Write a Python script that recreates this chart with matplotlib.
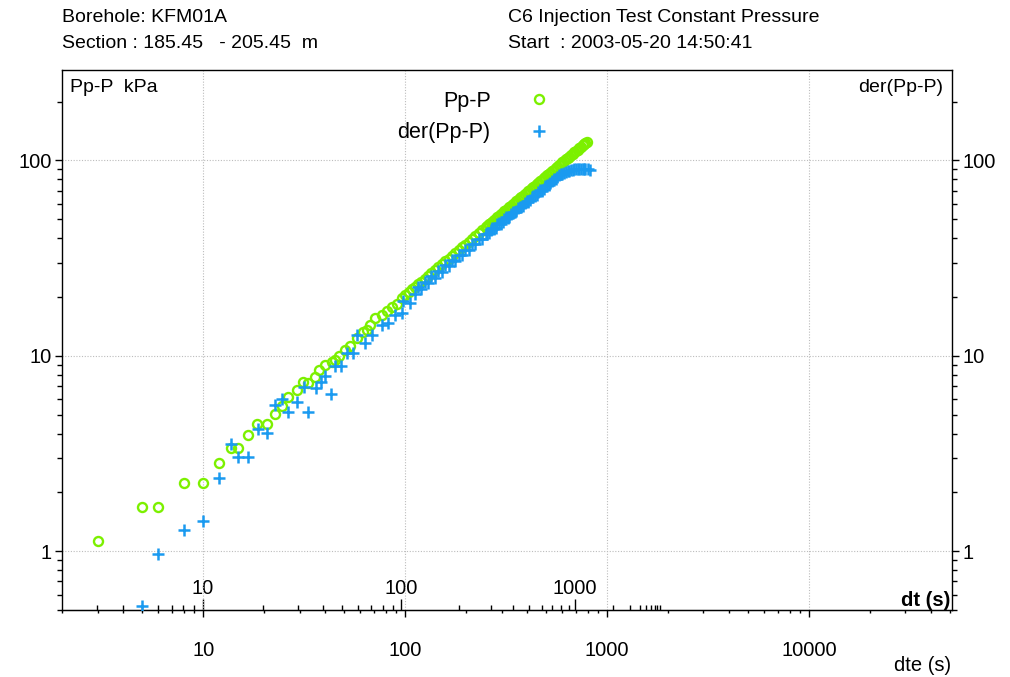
import matplotlib
matplotlib.use('Agg')
import matplotlib.pyplot as plt
from matplotlib.ticker import FuncFormatter, NullFormatter

plt.rcParams['font.family'] = ['Liberation Sans', 'DejaVu Sans']

# Pp-P (kPa) against elapsed time (s)
pp_t = [3, 5, 6, 8, 10, 12, 13.8, 14.8, 16.7, 18.5, 20.6, 22.7, 24.5, 26.4,
        29.2, 31.1, 33.2, 35.8, 37.6, 39.9, 43.3, 44.9, 47.2, 50.4, 53.6,
        57.5, 62.0, 64.5, 66.9, 70.9, 76.5, 81.0, 85.8, 90.8,
        96, 100, 104, 108, 112, 116, 120, 125, 130, 135, 140, 146, 152, 158,
        164, 170, 177, 184, 191, 198, 206, 214, 222, 231, 240, 250, 260, 270,
        281, 292, 304, 316, 328, 341, 355, 369, 384, 399, 415, 431, 448, 466,
        485, 504, 524, 545, 567, 590, 613, 637, 662, 688, 715, 743, 770, 792,
        # late samples in between
        255, 265, 275, 286, 298, 310, 322, 334, 348, 362, 376, 391, 407, 423,
        439, 457, 475, 494, 514, 534, 556, 578, 601, 625, 649, 675, 701, 729,
        756, 781]
pp_v = [1.125, 1.68, 1.68, 2.24, 2.24, 2.82, 3.36, 3.36, 3.91, 4.48, 4.48,
        5.03, 5.55, 6.14, 6.69, 7.30, 7.27, 7.83, 8.41, 8.99, 9.32, 9.54,
        10.0, 10.65, 11.25, 12.33, 13.23, 13.59, 14.42, 15.61, 16.23, 16.87,
        17.78, 18.48,
        19.72, 20.43, 21.14, 21.85, 22.56, 23.26, 23.96, 24.82, 25.68, 26.54,
        27.40, 28.43, 29.44, 30.45, 31.45, 32.45, 33.62, 34.77, 35.93, 37.08,
        38.38, 39.67, 40.97, 42.41, 43.85, 45.43, 47.02, 48.60, 50.32, 52.04,
        53.90, 55.75, 57.60, 59.59, 61.70, 63.83, 66.09, 68.33, 70.72, 73.10,
        75.60, 78.24, 81.00, 83.77, 86.66, 89.70, 92.85, 96.13, 99.38, 102.8,
        106.3, 109.9, 113.6, 117.5, 121.2, 124.3,
        46.22, 47.81, 49.38, 51.11, 52.97, 54.83, 56.68, 58.51, 60.65, 62.77,
        64.88, 67.13, 69.52, 71.90, 74.27, 76.91, 79.55, 82.31, 85.22, 88.10,
        91.26, 94.41, 97.68, 101.1, 104.4, 108.1, 111.7, 115.6, 119.3, 122.8]

# der(Pp-P)
der_t = [5, 6, 8, 10, 12, 13.8, 14.8, 16.7, 18.7, 20.6, 22.7, 24.5, 26.4,
         29.2, 31.6, 33.1, 36.3, 38.2, 40.3, 42.8, 45.2, 47.9, 51.3, 55.4,
         57.5, 63.2, 68.3, 76.5, 81.9, 89.0, 96.1, 97.9, 105.6,
         112, 116, 120, 125, 130, 135, 140, 146, 152, 158, 164, 170, 177, 184,
         191, 198, 206, 214, 222, 231, 240, 250, 260, 270, 281, 292, 304, 316,
         328, 341, 355, 369, 384, 399, 415, 431, 448, 466, 485, 504, 524, 545,
         567, 590, 613, 637, 662, 688, 715, 743, 770, 800, 822,
         # late samples in between
         255, 265, 275, 286, 298, 310, 322, 334, 348, 362, 376, 391, 407, 423,
         439, 457, 475, 494, 514, 534, 556, 578, 601, 625, 649, 675, 701, 729,
         756, 781]
der_v = [0.522, 0.965, 1.29, 1.43, 2.36, 3.52, 3.05, 3.05, 4.21, 4.01, 5.57,
         6.00, 5.13, 5.83, 6.96, 5.13, 6.83, 7.31, 7.90, 6.37, 8.85, 8.89,
         10.33, 10.33, 12.81, 11.62, 12.81, 14.42, 14.72, 16.23, 16.56, 19.0,
         18.63,
         20.6, 22.50, 22.0, 23.92, 23.6, 25.47, 25.0, 27.16, 26.9, 28.97, 28.7,
         30.75, 30.6, 32.81, 32.7, 34.84, 34.9, 37.12, 37.2, 39.53, 39.6, 42.16,
         42.4, 44.90, 45.3, 47.86, 48.3, 51.07, 51.5, 54.35, 55.0, 57.96, 58.7,
         61.79, 62.6, 65.81, 66.8, 70.14, 71.4, 74.78, 76.2, 79.9, 81.8, 85.2,
         86.0, 88.1, 89.0, 90.2, 90.6, 90.3, 90.8, 90.4, 89.6,
         42.0, 44.20, 44.6, 47.05, 47.5, 50.26, 50.6, 53.41, 54.1, 57.05,
         57.6, 60.77, 61.4, 64.80, 65.4, 69.02, 69.9, 73.55, 74.6, 78.46,
         80.0, 84.02, 85.0, 87.35, 88.2, 89.6, 90.3, 90.5, 90.6, 90.6]

tp = 2279.0  # flow time, maps dt onto the dte axis
dt_major = [10, 100, 1000]
dt_minor = [3, 4, 5, 6, 7, 8, 9, 20, 30, 40, 50, 60, 70, 80, 90,
            200, 300, 400, 500, 600, 700, 800, 900,
            2000, 3000, 4000, 5000, 6000, 7000, 8000, 9000]

green = '#7cf000'
blue = '#1a9af0'
fs_tick = 14.5
fs_head = 14
fs_leg = 15.5

fig = plt.figure(figsize=(10.1, 6.77), dpi=100)
ax = fig.add_axes([62 / 1010, 1 - 610 / 677, 890 / 1010, 540 / 677])
ax.set_xscale('log')
ax.set_yscale('log')
ax.set_xlim(2, 51000)
ax.set_ylim(0.5, 290)

ax.plot(pp_t, pp_v, 'o', mfc='none', mec=green, mew=1.7, ms=6.5,
        label='Pp-P', zorder=3)
ax.plot(der_t, der_v, '+', color=blue, mew=1.8, ms=8.5,
        label='der(Pp-P)', zorder=4)

fmt = FuncFormatter(lambda v, p: f'{v:g}')
ax.xaxis.set_major_formatter(fmt)
ax.xaxis.set_minor_formatter(NullFormatter())
ax.yaxis.set_major_formatter(fmt)
ax.yaxis.set_minor_formatter(NullFormatter())
ax.tick_params(axis='x', which='major', direction='out', length=5, width=1,
               labelsize=fs_tick, pad=17)
ax.tick_params(axis='x', which='minor', direction='out', length=2.2, width=1)
ax.tick_params(axis='y', which='both', direction='out', left=True, right=True,
               labelleft=True, labelright=True, labelsize=fs_tick, width=1,
               pad=2.5)
ax.tick_params(axis='y', which='major', length=5)
ax.tick_params(axis='y', which='minor', length=3.6)
ax.grid(True, which='major', linestyle=(0, (1, 1.5)), color='#bcbcbc', lw=0.8)
for s in ax.spines.values():
    s.set_linewidth(1)

# dt axis drawn on the bottom spine, ticks pointing into the plot
sec = ax.secondary_xaxis('bottom')
sec.set_alignment('top')
sec.set_xticks([d * tp / (d + tp) for d in dt_major],
               labels=[str(d) for d in dt_major])
sec.set_xticks([d * tp / (d + tp) for d in dt_minor], minor=True)
sec.xaxis.set_minor_formatter(NullFormatter())
sec.tick_params(which='major', length=8, width=1, labelsize=fs_tick, pad=0.5)
sec.tick_params(which='minor', length=3.6, width=1)

ax.legend(loc='upper right', bbox_to_anchor=(0.548, 0.962), markerfirst=False,
          frameon=False, fontsize=fs_leg, numpoints=1, handlelength=1.0,
          handletextpad=1.75, labelspacing=0.5, borderpad=0, borderaxespad=0)

ax.text(0.009, 0.9685, 'Pp-P  kPa', transform=ax.transAxes, fontsize=fs_head,
        va='center', ha='left')
ax.text(0.99, 0.9685, 'der(Pp-P)', transform=ax.transAxes, fontsize=fs_head,
        va='center', ha='right')
ax.text(0.998, 0.0185, 'dt (s)', transform=ax.transAxes, fontsize=fs_tick,
        fontweight='bold', va='center', ha='right')
ax.text(0.999, -0.102, 'dte (s)', transform=ax.transAxes, fontsize=fs_tick,
        va='center', ha='right')

fig.text(62 / 1010, 1 - 17 / 677, 'Borehole: KFM01A', fontsize=fs_head,
         va='center')
fig.text(62 / 1010, 1 - 43 / 677, 'Section : 185.45   - 205.45  m',
         fontsize=fs_head, va='center')
fig.text(508 / 1010, 1 - 17 / 677, 'C6 Injection Test Constant Pressure',
         fontsize=fs_head, va='center')
fig.text(508 / 1010, 1 - 43 / 677, 'Start  : 2003-05-20 14:50:41',
         fontsize=fs_head, va='center')

fig.savefig('out.png', dpi=100)
